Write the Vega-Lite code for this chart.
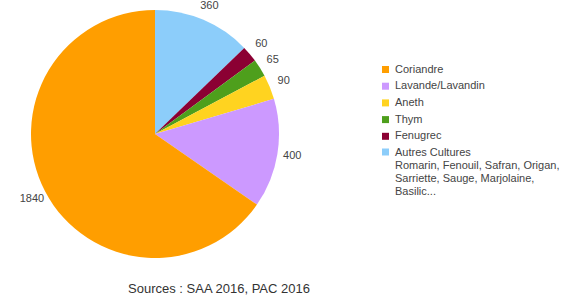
{
  "$schema": "https://vega.github.io/schema/vega-lite/v6.json",
  "width": 310,
  "height": 266,
  "padding": 0,
  "autosize": {"type": "pad"},
  "background": "white",
  "title": {
    "text": "Sources : SAA 2016, PAC 2016",
    "orient": "bottom",
    "anchor": "middle",
    "dx": 64,
    "offset": 16,
    "font": "Liberation Sans",
    "fontSize": 13,
    "fontWeight": "normal",
    "color": "#333333"
  },
  "config": {"view": {"stroke": null}, "font": "Liberation Sans"},
  "data": {
    "values": [
      {"culture": "Autres Cultures", "surface": 360, "rang": 1},
      {"culture": "Fenugrec", "surface": 60, "rang": 2},
      {"culture": "Thym", "surface": 65, "rang": 3},
      {"culture": "Aneth", "surface": 90, "rang": 4},
      {"culture": "Lavande/Lavandin", "surface": 400, "rang": 5},
      {"culture": "Coriandre", "surface": 1840, "rang": 6}
    ]
  },
  "encoding": {
    "theta": {"field": "surface", "type": "quantitative", "stack": true},
    "order": {"field": "rang", "type": "quantitative"}
  },
  "layer": [
    {
      "mark": {"type": "arc", "outerRadius": 124},
      "encoding": {
        "color": {
          "field": "culture",
          "type": "nominal",
          "scale": {
            "domain": ["Coriandre", "Lavande/Lavandin", "Aneth", "Thym", "Fenugrec", "Autres Cultures"],
            "range": ["#ff9e00", "#cc99ff", "#ffd320", "#4e9f1c", "#8b0033", "#8ccdfa"]
          },
          "legend": {
            "title": null,
            "orient": "none",
            "legendX": 380,
            "legendY": 63,
            "padding": 0,
            "symbolType": "square",
            "symbolSize": 49,
            "symbolStrokeWidth": 0,
            "labelFont": "Liberation Sans",
            "labelFontSize": 11,
            "labelColor": "#444444",
            "labelOffset": 4,
            "labelLimit": 300,
            "rowPadding": 4.7,
            "labelExpr": "datum.label == 'Autres Cultures' ? ['Autres Cultures', 'Romarin, Fenouil, Safran, Origan,', 'Sarriette, Sauge, Marjolaine,', 'Basilic...'] : datum.label",
            "encode": {
              "labels": {
                "update": {
                  "baseline": [{"test": "datum.value == 'Autres Cultures'", "value": "top"}, {"value": "middle"}],
                  "dy": [{"test": "datum.value == 'Autres Cultures'", "value": -5}, {"value": 0}],
                  "lineHeight": {"value": 13}
                }
              }
            }
          }
        }
      }
    },
    {
      "mark": {"type": "text", "radius": 139, "font": "Liberation Sans", "fontSize": 11, "color": "#444444"},
      "encoding": {
        "text": {"field": "surface", "type": "quantitative"}
      }
    }
  ]
}
